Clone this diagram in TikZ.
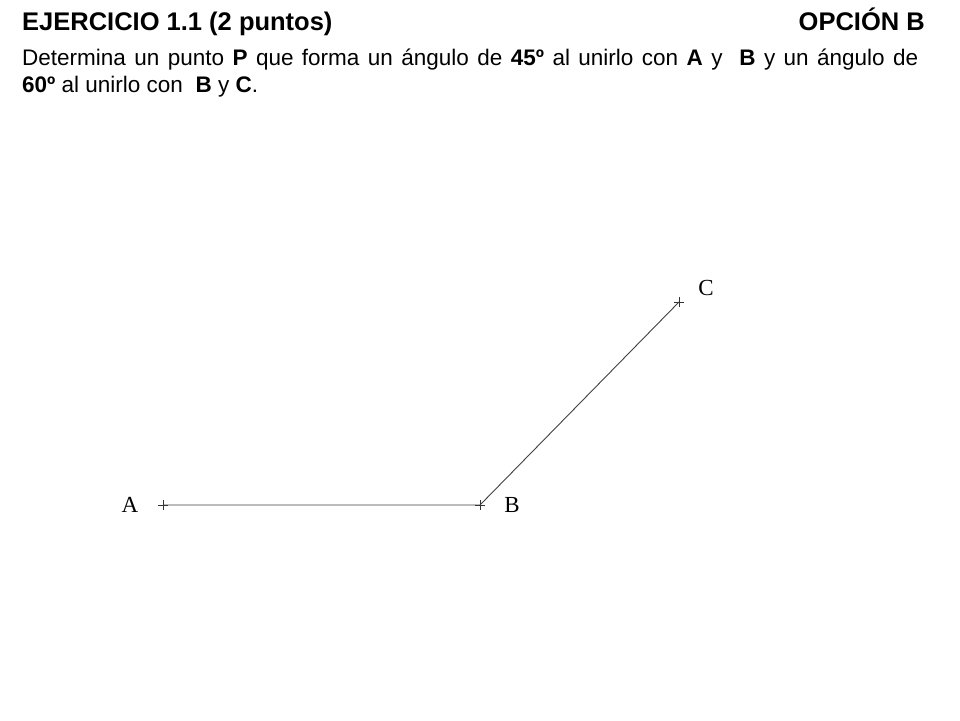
\documentclass[tikz,border=0pt]{standalone}
\usepackage{fontspec}
\setmainfont{Liberation Sans}
\newfontfamily\labelfont{Liberation Serif}
\usetikzlibrary{shapes.misc}

\begin{document}
\begin{tikzpicture}[
    x=1pt, y=1pt,
    title/.style={anchor=base west, inner sep=0pt, font=\fontsize{25.5}{28}\selectfont\bfseries},
    body/.style={anchor=base west, inner sep=0pt, font=\fontsize{22.5}{26}\selectfont},
    crux/.style={draw=black!80, cross out, rotate=45, minimum size=5.7pt, inner sep=0pt, line width=0.8pt},
    ptlabel/.style={font=\labelfont\fontsize{23}{26}\selectfont, inner sep=0pt},
    segment/.style={draw=black!75, line width=0.9pt}
]
    \useasboundingbox (0,0) rectangle (960,-720);

    % header
    \node[title] (head) at (22,-30) {EJERCICIO 1.1 (2 puntos)};
    \node[title, anchor=base east] (option) at (925,-30) {OPCIÓN B};
    \node[body] (line1) at (22,-65) {\makebox[896pt][s]{Determina un punto \textbf{P} que forma un ángulo de \textbf{45º} al unirlo con \textbf{A} y \ \textbf{B} y un ángulo de}};
    \node[body] (line2) at (22,-92) {\textbf{60º} al unirlo con \ \textbf{B} y \textbf{C}.};

    % points
    \node[crux] (A) at (163,-505) {};
    \node[crux] (B) at (480,-505) {};
    \node[crux] (C) at (679,-302) {};

    \node[ptlabel] (labA) at (130,-505) {A};
    \node[ptlabel] (labB) at (512,-505) {B};
    \node[ptlabel] (labC) at (706,-288) {C};

    \draw[segment] (A.center) -- (B.center) -- (C.center);
\end{tikzpicture}
\end{document}
